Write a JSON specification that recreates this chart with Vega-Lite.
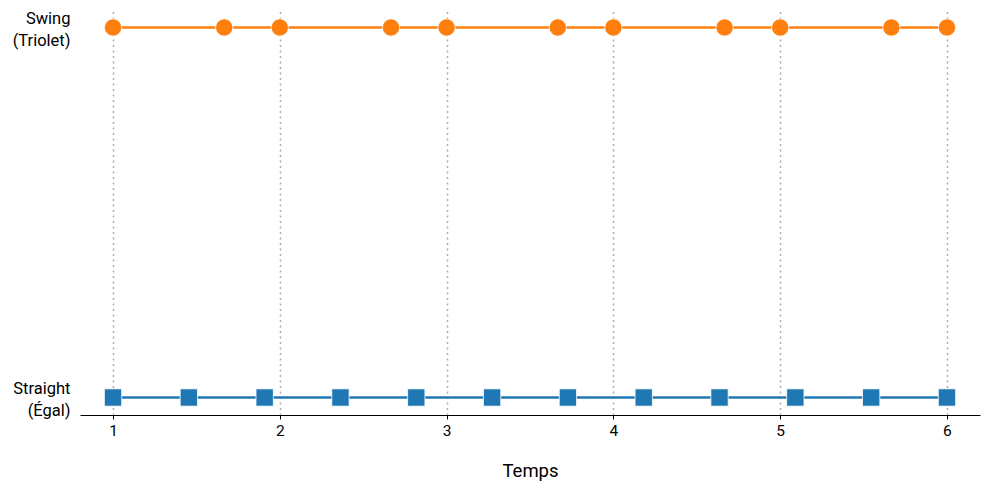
{
  "$schema": "https://vega.github.io/schema/vega-lite/v6.json",
  "width": 900,
  "height": 405,
  "autosize": {"type": "none"},
  "padding": {"left": 80, "top": 10, "right": 9, "bottom": 75},
  "background": "white",
  "config": {
    "view": {"stroke": null},
    "font": "Roboto"
  },
  "data": {
    "values": [
      {"style": "Swing (Triolet)", "t": 1},
      {"style": "Swing (Triolet)", "t": 1.6667},
      {"style": "Swing (Triolet)", "t": 2},
      {"style": "Swing (Triolet)", "t": 2.6667},
      {"style": "Swing (Triolet)", "t": 3},
      {"style": "Swing (Triolet)", "t": 3.6667},
      {"style": "Swing (Triolet)", "t": 4},
      {"style": "Swing (Triolet)", "t": 4.6667},
      {"style": "Swing (Triolet)", "t": 5},
      {"style": "Swing (Triolet)", "t": 5.6667},
      {"style": "Swing (Triolet)", "t": 6},
      {"style": "Straight (Égal)", "t": 1},
      {"style": "Straight (Égal)", "t": 1.4545},
      {"style": "Straight (Égal)", "t": 1.9091},
      {"style": "Straight (Égal)", "t": 2.3636},
      {"style": "Straight (Égal)", "t": 2.8182},
      {"style": "Straight (Égal)", "t": 3.2727},
      {"style": "Straight (Égal)", "t": 3.7273},
      {"style": "Straight (Égal)", "t": 4.1818},
      {"style": "Straight (Égal)", "t": 4.6364},
      {"style": "Straight (Égal)", "t": 5.0909},
      {"style": "Straight (Égal)", "t": 5.5455},
      {"style": "Straight (Égal)", "t": 6}
    ]
  },
  "encoding": {
    "x": {
      "field": "t",
      "type": "quantitative",
      "scale": {"domain": [0.802, 6.198], "nice": false, "zero": false},
      "axis": {
        "title": "Temps",
        "titleFontSize": 18.5,
        "titleFontWeight": "normal",
        "titleColor": "black",
        "titlePadding": 23,
        "values": [1, 2, 3, 4, 5, 6],
        "format": "d",
        "labelFontSize": 15.5,
        "labelColor": "black",
        "labelPadding": 4,
        "tickSize": 4,
        "tickColor": "black",
        "domainColor": "black",
        "domainWidth": 1,
        "grid": true,
        "gridColor": "#aaaaaa",
        "gridDash": [2, 3.5],
        "gridWidth": 1.5
      }
    },
    "y": {
      "field": "style",
      "type": "nominal",
      "scale": {
        "type": "point",
        "padding": 0.0473,
        "domain": ["Swing (Triolet)", "Straight (Égal)"]
      },
      "axis": {
        "title": null,
        "domain": false,
        "ticks": false,
        "grid": false,
        "labelFontSize": 16.5,
        "labelColor": "black",
        "labelPadding": 10,
        "labelAlign": "right",
        "labelLineHeight": 22,
        "labelOffset": -9,
        "labelExpr": "split(datum.label, ' ')"
      }
    },
    "color": {
      "field": "style",
      "type": "nominal",
      "scale": {
        "domain": ["Swing (Triolet)", "Straight (Égal)"],
        "range": ["#ff7f0e", "#1f77b4"]
      },
      "legend": null
    }
  },
  "layer": [
    {
      "mark": {"type": "line", "strokeWidth": 2.5}
    },
    {
      "mark": {"type": "point", "filled": true, "opacity": 1, "size": 300, "stroke": "white", "strokeWidth": 0.8},
      "encoding": {
        "shape": {
          "field": "style",
          "type": "nominal",
          "scale": {
            "domain": ["Swing (Triolet)", "Straight (Égal)"],
            "range": ["circle", "square"]
          },
          "legend": null
        }
      }
    }
  ]
}
